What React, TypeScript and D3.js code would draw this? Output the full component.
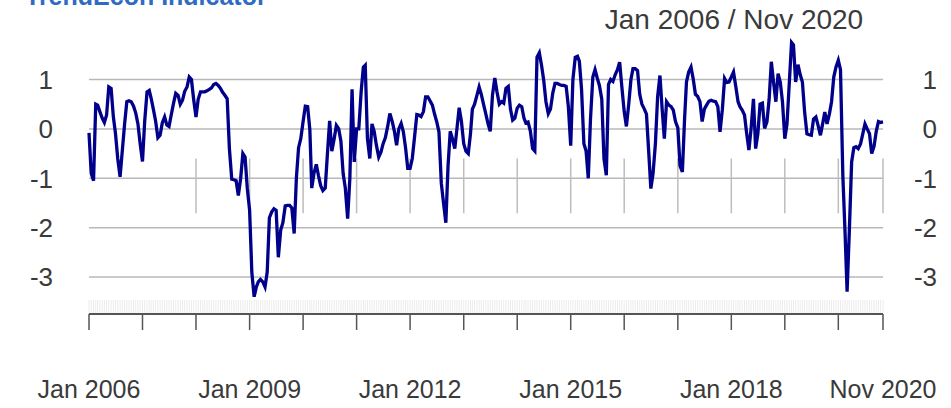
import React from "react";
import * as d3 from "d3";

// half-monthly readings (1st and 16th of each month), Jan 2006 .. Nov 2020
const v2006 = [-0.08, -0.9, -1.05, 0.5, 0.48, 0.35, 0.22, 0.13, 0.28, 0.85, 0.82, 0.25, -0.1, -0.6, -0.97, -0.45, 0.1, 0.55, 0.57, 0.55, 0.46, 0.32, 0.1, -0.3];
const v2007 = [-0.66, 0.15, 0.75, 0.78, 0.62, 0.4, 0.15, -0.18, -0.13, 0.12, 0.24, 0.08, 0.05, 0.28, 0.52, 0.72, 0.68, 0.5, 0.58, 0.76, 0.85, 1.05, 1.0, 0.6];
const v2008 = [0.24, 0.6, 0.75, 0.75, 0.75, 0.77, 0.8, 0.83, 0.9, 0.92, 0.88, 0.82, 0.74, 0.68, 0.61, -0.4, -1.02, -1.03, -1.05, -1.35, -1.0, -0.5, -0.57, -1.2];
const v2009 = [-1.65, -2.9, -3.4, -3.2, -3.1, -3.05, -3.1, -3.2, -2.9, -1.8, -1.68, -1.62, -1.65, -2.6, -2.05, -1.9, -1.56, -1.55, -1.55, -1.6, -2.12, -1.0, -0.38, -0.2];
const v2010 = [0.15, 0.46, 0.45, -0.02, -1.2, -0.9, -0.72, -0.95, -1.15, -1.25, -1.2, -0.5, 0.16, -0.45, -0.2, 0.07, 0.0, -0.25, -0.9, -1.2, -1.82, -1.0, 0.8, -0.67];
const v2011 = [0.0, 0.0, 0.75, 1.25, 1.29, -0.2, -0.6, 0.1, -0.05, -0.33, -0.57, -0.47, -0.3, -0.18, 0.05, 0.31, 0.15, -0.05, -0.33, 0.0, 0.11, -0.06, -0.38, -0.8];
const v2012 = [-0.8, -0.6, -0.15, 0.29, 0.28, 0.25, 0.35, 0.65, 0.65, 0.57, 0.48, 0.3, 0.14, -0.06, -1.1, -1.5, -1.9, -0.75, -0.05, -0.2, -0.4, 0.01, 0.43, 0.16];
const v2013 = [-0.3, -0.45, -0.5, -0.1, 0.4, 0.5, 0.68, 0.85, 0.7, 0.5, 0.3, 0.1, -0.05, 0.68, 1.03, 0.75, 0.5, 0.55, 0.52, 0.82, 0.86, 0.4, 0.18, 0.22];
const v2014 = [0.42, 0.48, 0.45, 0.22, 0.12, 0.14, -0.05, -0.4, -0.45, 1.45, 1.54, 1.29, 0.98, 0.55, 0.31, 0.4, 0.73, 0.92, 0.92, 0.9, 0.88, 0.88, 0.86, 0.45];
const v2015 = [-0.34, 1.0, 1.45, 1.47, 1.37, 0.8, -0.3, -0.45, -1.0, 0.2, 1.05, 1.2, 1.03, 0.88, 0.6, -0.6, -0.94, 0.9, 1.0, 0.96, 1.1, 1.2, 1.35, 0.85];
const v2016 = [0.35, 0.05, 0.5, 1.0, 1.22, 1.22, 1.18, 0.7, 0.5, 0.41, 0.3, -0.45, -1.21, -0.9, -0.3, 0.65, 1.08, 0.4, -0.2, 0.55, 0.48, 0.45, 0.38, 0.15];
const v2017 = [0.02, -0.75, -0.87, 0.2, 0.95, 1.15, 1.25, 1.01, 0.7, 0.66, 0.55, 0.15, 0.4, 0.48, 0.56, 0.58, 0.56, 0.55, 0.45, -0.06, 0.4, 1.02, 0.94, 0.95];
const v2018 = [1.05, 1.15, 0.85, 0.55, 0.45, 0.38, 0.28, -0.1, -0.43, 0.01, 0.61, -0.4, -0.1, 0.5, 0.52, 0.01, 0.14, 0.6, 1.36, 0.95, 0.55, 1.12, 0.95, 0.55];
const v2019 = [-0.2, 0.1, 0.95, 1.75, 1.7, 0.95, 1.3, 1.1, 0.95, 0.35, -0.1, -0.12, -0.13, 0.2, 0.24, 0.07, -0.13, 0.1, 0.34, 0.1, 0.3, 0.55, 1.05, 1.25];
const v2020 = [1.39, 1.2, -0.95, -2.09, -3.3, -2.09, -0.67, -0.38, -0.36, -0.4, -0.3, -0.1, 0.1, 0.0, -0.1, -0.5, -0.35, -0.05, 0.15, 0.13, 0.14];

const values = [...v2006, ...v2007, ...v2008, ...v2009, ...v2010, ...v2011, ...v2012, ...v2013,
  ...v2014, ...v2015, ...v2016, ...v2017, ...v2018, ...v2019, ...v2020];

const yTicks = [-3, -2, -1, 0, 1];
const labelDates = ["2006-01", "2009-01", "2012-01", "2015-01", "2018-01", "2020-11"];
const title = "TrendEcon Indicator";
const rangeLabel = "Jan 2006 / Nov 2020";

const W = 951;
const H = 408;
const left = 89;
const right = 883;

const toDate = (i: number) => new Date(2006, Math.floor(i / 2), i % 2 === 0 ? 1 : 16);
const parse = d3.timeParse("%Y-%m");
const fmt = d3.timeFormat("%b %Y");

export default function App() {
  const start = new Date(2006, 0, 1);
  const end = new Date(2020, 10, 1);

  const x = d3.scaleTime().domain([start, end]).range([left, right]);
  const y = d3.scaleLinear().domain([-3, 1]).range([277, 79.5]);

  const line = d3
    .line<number>()
    .x((d, i) => x(toDate(i)))
    .y((d) => y(d));

  const yearTicks = [...d3.timeYear.range(start, new Date(2020, 1, 1)), end];
  const gridYears = yearTicks.filter((d) => d.getFullYear() >= 2008);

  const textStyle = {fontFamily: "Liberation Sans, Arial, sans-serif", fill: "#3a3a3a"};

  return (
    <svg width={W} height={H} style={{position: "absolute", left: 0, top: 0, background: "#fff"}}>
      <text x={25} y={5} fontSize={25} fontWeight="bold" fill="#2f6bc4"
            style={{fontFamily: "Liberation Sans, Arial, sans-serif"}}>{title}</text>
      <text x={734} y={29} fontSize={28} textAnchor="middle" style={textStyle}>{rangeLabel}</text>

      {/* horizontal grid */}
      {yTicks.map((t) => (
        <line key={t} x1={left} x2={right} y1={y(t)} y2={y(t)} stroke="#b8b8b8" strokeWidth={1.5}/>
      ))}
      {/* short vertical grid */}
      {gridYears.map((d) => (
        <line key={+d} x1={x(d)} x2={x(d)} y1={y(-0.6)} y2={y(-1.71)} stroke="#bdbdbd" strokeWidth={1.5}/>
      ))}

      {/* y labels both sides */}
      {yTicks.map((t) => (
        <g key={"l" + t}>
          <text x={53} y={y(t)} dy="0.36em" fontSize={26} textAnchor="end" style={textStyle}>{t}</text>
          <text x={937} y={y(t)} dy="0.36em" fontSize={26} textAnchor="end" style={textStyle}>{t}</text>
        </g>
      ))}

      {/* faint observation ticks */}
      {values.map((v, i) => (
        <line key={"o" + i} x1={x(toDate(i))} x2={x(toDate(i))} y1={300} y2={313} stroke="#ececec" strokeWidth={1}/>
      ))}

      {/* x axis */}
      <line x1={left} x2={right} y1={314} y2={314} stroke="#555" strokeWidth={2}/>
      {yearTicks.map((d) => (
        <line key={"t" + +d} x1={x(d)} x2={x(d)} y1={314} y2={330} stroke="#555" strokeWidth={1.5}/>
      ))}
      {labelDates.map((s) => {
        const d = parse(s) as Date;
        return (
          <text key={s} x={x(d)} y={398} fontSize={25} textAnchor="middle" style={textStyle}>{fmt(d)}</text>
        );
      })}

      <path d={line(values) || ""} fill="none" stroke="#00008b" strokeWidth={3.3} strokeLinejoin="miter"/>
    </svg>
  );
}
